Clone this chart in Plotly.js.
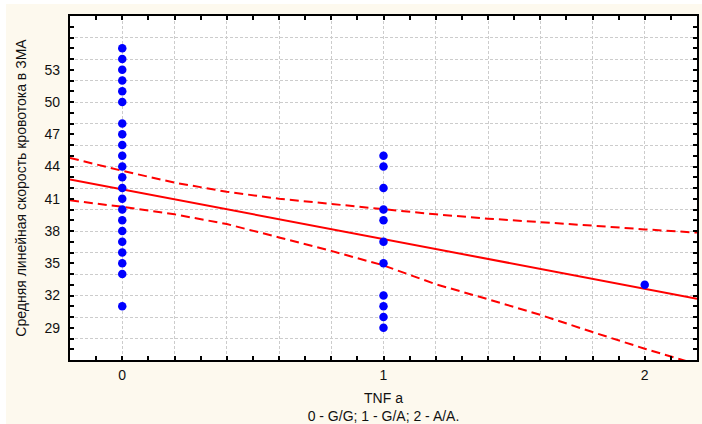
<!DOCTYPE html>
<html>
<head>
<meta charset="utf-8">
<script src="https://cdn.plot.ly/plotly-3.0.1.min.js"></script>
<style>
  html, body { margin: 0; padding: 0; background: #ffffff; }
  #chart { position: absolute; left: 6px; top: 4px; width: 696px; height: 420px; }
</style>
</head>
<body>
<div id="chart"></div>
<script>
// ---- data ----
// genotype groups (TNF a): 0 - G/G, 1 - G/A, 2 - A/A
const group0Values = [55, 54, 53, 52, 51, 50, 48, 47, 46, 45, 44, 43, 42, 41, 40, 39, 38, 37, 36, 35, 34, 31];
const group1Values = [45, 44, 42, 40, 39, 37, 35, 32, 31, 30, 29];
const group2Values = [33];

// regression line
const fitX = [-0.2, 2.2];
const fitY = [42.8, 31.7];

// confidence band
const bandX     = [-0.2, 0, 0.2, 0.4, 0.6, 0.8, 1.0, 1.2, 1.4, 1.6, 1.8, 2.0, 2.2];
const bandUpper = [44.8, 43.6, 42.5, 41.65, 41.0, 40.5, 40.0, 39.55, 39.15, 38.85, 38.5, 38.15, 37.85];
const bandLower = [40.85, 40.25, 39.55, 38.65, 37.4, 36.15, 34.8, 33.05, 31.65, 30.2, 28.6, 27.05, 25.6];

// axes / ticks
const xRange = [-0.2, 2.2];
const yRange = [26, 58];
const xGridVals = [0, 0.2, 0.4, 0.6, 0.8, 1.0, 1.2, 1.4, 1.6, 1.8, 2.0];
const xLabelVals = [0, 1, 2];
const xLabelText = ['0', '1', '2'];
const yGridVals = [26, 28, 30, 32, 34, 36, 38, 40, 42, 44, 46, 48, 50, 52, 54, 56, 58];
const yLabelVals = [29, 32, 35, 38, 41, 44, 47, 50, 53];
const yLabelText = ['29', '32', '35', '38', '41', '44', '47', '50', '53'];

const xTitle = 'TNF a<br>0 - G/G; 1 - G/A; 2 - A/A.';
const yTitle = 'Средняя линейная скорость кровотока в ЗМА';

// ---- build traces ----
const px = [], py = [];
[[0, group0Values], [1, group1Values], [2, group2Values]].forEach(([g, vals]) => {
  vals.forEach(v => { px.push(g); py.push(v); });
});

const FONT = 'Liberation Sans, Arial, Helvetica, sans-serif';
const RED = '#ff0000';

const traces = [
  { type: 'scatter', mode: 'lines', x: bandX, y: bandUpper,
    line: { color: RED, width: 2, dash: '9px,5px' }, hoverinfo: 'skip' },
  { type: 'scatter', mode: 'lines', x: bandX, y: bandLower,
    line: { color: RED, width: 2, dash: '9px,5px' }, hoverinfo: 'skip' },
  { type: 'scatter', mode: 'lines', x: fitX, y: fitY,
    line: { color: RED, width: 2 }, hoverinfo: 'skip' },
  { type: 'scatter', mode: 'markers', x: px, y: py,
    marker: { color: '#0000ff', size: 8.5, line: { width: 0 } }, cliponaxis: true },
  { type: 'scatter', mode: 'markers', x: [], y: [], yaxis: 'y2', hoverinfo: 'skip' }
];

const axisCommon = {
  showline: true, linecolor: '#000', linewidth: 2, mirror: 'ticks',
  ticks: 'inside', ticklen: 4, tickwidth: 2, tickcolor: '#000',
  zeroline: false, gridcolor: '#cccccc', gridwidth: 1, griddash: '3px,2px'
};

const layout = {
  width: 696, height: 420,
  margin: { l: 64, r: 5, t: 12, b: 64 },
  paper_bgcolor: '#fdf9ee', plot_bgcolor: '#ffffff',
  showlegend: false,
  font: { family: FONT, size: 14, color: '#111111' },
  xaxis: Object.assign({}, axisCommon, {
    range: xRange, tickmode: 'array', tickvals: xGridVals,
    ticktext: xGridVals.map(v => { const i = xLabelVals.indexOf(v); return i >= 0 ? xLabelText[i] : ''; }),
    showgrid: true, ticklabelstandoff: 1,
    minor: { dtick: 0.1, tick0: 0, ticks: 'inside', ticklen: 4, tickwidth: 2, tickcolor: '#000', showgrid: false },
    title: { text: xTitle, font: { family: FONT, size: 14, color: '#111111' }, standoff: 14 }
  }),
  yaxis: Object.assign({}, axisCommon, {
    range: yRange, tickmode: 'array', tickvals: yGridVals, showticklabels: false,
    showgrid: true,
    minor: { dtick: 1, tick0: 0, ticks: 'inside', ticklen: 4, tickwidth: 2, tickcolor: '#000', showgrid: false }
  }),
  yaxis2: {
    overlaying: 'y', side: 'left', range: yRange, tickmode: 'array',
    tickvals: yLabelVals, ticktext: yLabelText, showgrid: false, zeroline: false,
    showline: false, ticks: '', ticklabelstandoff: 9,
    title: { text: yTitle, font: { family: FONT, size: 14, color: '#111111' }, standoff: 14 }
  }
};

Plotly.newPlot('chart', traces, layout, { displayModeBar: false, staticPlot: true });
</script>
</body>
</html>
